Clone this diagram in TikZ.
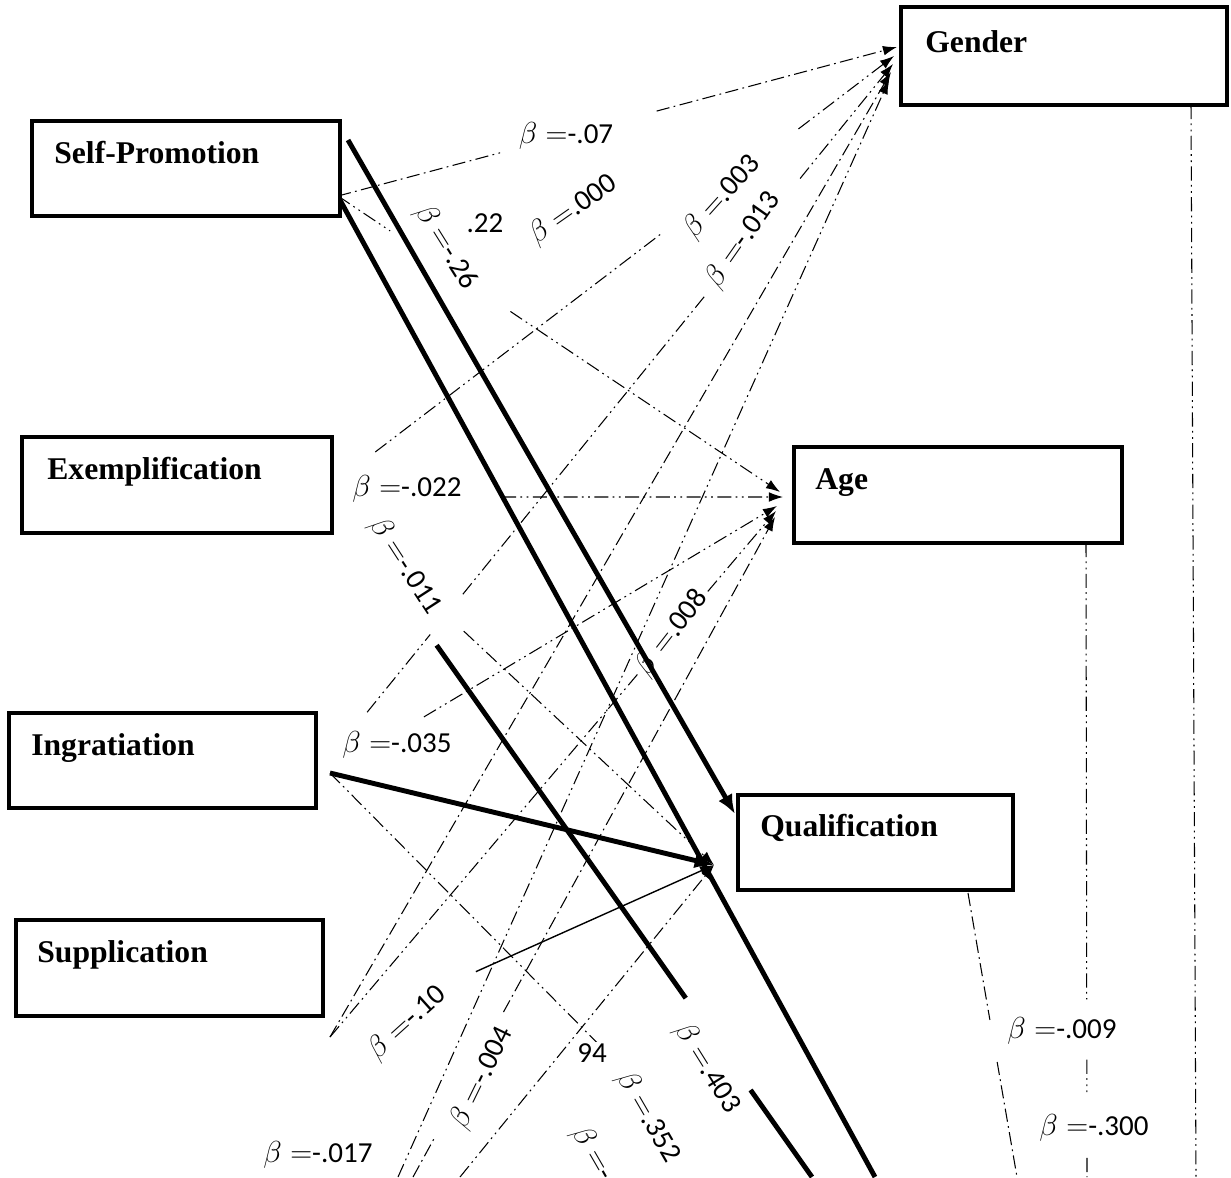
\documentclass[tikz,border=0pt]{standalone}
\usepackage{fontspec}
\setmainfont{Liberation Serif}
\newfontfamily\calib{Carlito}
\usetikzlibrary{calc,arrows.meta}
\begin{document}
\begin{tikzpicture}[x=0.02cm,y=-0.02cm,
  box/.style={draw, line width=1.8pt, fill=white, inner sep=0pt},
  boxtxt/.style={font=\fontsize{18}{20}\selectfont\bfseries, anchor=base west, inner sep=0pt},
  beta/.style={font=\calib\fontsize{16.5}{18}\selectfont, inner sep=1pt, fill=white},
  dd/.style={line width=0.6pt, dash pattern=on 7.5pt off 2.5pt on 1pt off 2.5pt},
  ddd/.style={line width=0.6pt, dash pattern=on 8pt off 2.5pt on 1pt off 2.5pt on 1pt off 2.5pt},
  heavy/.style={line width=2.8pt},
  tip/.style={-{Latex[length=8pt,width=5.5pt]}},
  bigtip/.style={-{Latex[length=11pt,width=9pt]}},
]
\clip (0,0) rectangle (1231,1177);
\fill[white] (0,0) rectangle (1231,1177);

% ---------- coordinates ----------
\coordinate (spA) at (338,196);
\coordinate (spT1) at (348,140);
\coordinate (spT2) at (340,200);
\coordinate (exA) at (332,497);
\coordinate (exG) at (332,485);
\coordinate (exQ) at (332,508);
\coordinate (inA) at (330,773);
\coordinate (inG) at (330,758);
\coordinate (suA) at (330,1037);
\coordinate (bo1) at (398,1177);
\coordinate (bo2) at (413,1177);
\coordinate (bo3) at (460,1177);
\coordinate (g1) at (897,47);
\coordinate (g2) at (894,56);
\coordinate (g3) at (893,64);
\coordinate (g4) at (891,72);
\coordinate (g5) at (889,80);
\coordinate (a1) at (780,492);
\coordinate (a2) at (783,497);
\coordinate (a3) at (777,506);
\coordinate (a4) at (776,511);
\coordinate (a5) at (775,517);
\coordinate (q) at (714,865);
\coordinate (qT1) at (735,814);
\coordinate (oT2) at (875,1177);
\coordinate (oT3) at (812,1177);
\coordinate (oD1) at (730,1177);
\coordinate (gB) at (1191,105);
\coordinate (oV1) at (1196,1177);
\coordinate (aB) at (1086,543);
\coordinate (oV2) at (1087,1177);
\coordinate (qB) at (968,893);
\coordinate (oV3) at (1017,1177);

% ---------- to Gender ----------
\draw[dd] (spA) -- ($(spA)!0.29!(g1)$);
\draw[dd,tip] ($(spA)!0.57!(g1)$) -- (g1);
\draw[ddd] ($(exG)!0.077!(g2)$) -- ($(exG)!0.59!(g2)$);
\draw[ddd,tip] ($(exG)!0.83!(g2)$) -- (g2);
\draw[ddd] ($(inG)!0.066!(g3)$) -- ($(inG)!0.178!(g3)$);
\draw[ddd] ($(inG)!0.236!(g3)$) -- ($(inG)!0.666!(g3)$);
\draw[ddd,tip] ($(inG)!0.835!(g3)$) -- (g3);
\draw[dd,tip] (suA) -- (g4);
\draw[ddd,tip] (bo1) -- (g5);

% ---------- to Age ----------
\draw[ddd] (spA) -- ($(spA)!0.118!(a1)$);
\draw[ddd,tip] ($(spA)!0.39!(a1)$) -- (a1);
\draw[ddd,tip] ($(exA)!0.377!(a2)$) -- (a2);
\draw[ddd,tip] ($(inA)!0.21!(a3)$) -- (a3);
\draw[ddd,tip] (suA) -- (a4);
\draw[dd] (bo2) -- ($(bo2)!0.06!(a5)$);
\draw[dd,tip] ($(bo2)!0.25!(a5)$) -- (a5);

% ---------- to Qualification ----------
\draw[ddd,tip] ($(exQ)!0.345!(q)$) -- (q);
\draw[line width=0.8pt,tip] ($(suA)!0.38!(q)$) -- (q);
\draw[ddd,tip] (bo3) -- (q);
\draw[ddd] (inA) -- ($(inA)!0.67!(oD1)$);

% ---------- verticals ----------
\draw[ddd] (gB) -- (oV1);
\draw[ddd] (aB) -- ($(aB)!0.72!(oV2)$);
\draw[ddd] ($(aB)!0.815!(oV2)$) -- ($(aB)!0.866!(oV2)$);
\draw[ddd] ($(aB)!0.97!(oV2)$) -- (oV2);
\draw[dd] (qB) -- ($(qB)!0.447!(oV3)$);
\draw[dd] ($(qB)!0.595!(oV3)$) -- (oV3);

% ---------- labels ----------
\node[beta] (l07) at (566,136) {$\beta=$-.07};
\node[beta, rotate=35] (l000) at (573,210) {$\beta=$.000};
\node[beta] (l22) at (485,223) {.22};
\node[beta, rotate=-58] (l26) at (446,247) {$\beta=$-.26};
\node[beta, rotate=48] (l003) at (722,197) {$\beta=$.003};
\node[beta, rotate=55] (l013) at (743,240) {$\beta=$-.013};
\node[beta] (l022) at (407,489) {$\beta=$-.022};
\node[beta, rotate=-57] (l011) at (405,566) {$\beta=$-.011};
\node[beta, rotate=52] (l008) at (672,633) {$\beta=$.008};
\node[beta] (l035) at (397,745) {$\beta=$-.035};
\node[beta, rotate=42] (l10) at (407,1023) {$\beta=$-.10};
\node[beta, rotate=64] (l004) at (482,1078) {$\beta=$-.004};
\node[beta] (l94) at (592,1053) {94};
\node[beta, rotate=-60] (l352) at (648,1117) {$\beta=$.352};
\node[beta, rotate=-60, anchor=west] (lcut) at (577,1127) {$\beta=$-.};
\node[beta, rotate=-58] (l403) at (707,1068) {$\beta=$.403};
\node[beta] (l017) at (318,1155) {$\beta=$-.017};
\node[beta] (l009) at (1062,1031) {$\beta=$-.009};
\node[beta] (l300) at (1094,1128) {$\beta=$-.300};

% ---------- thick paths ----------
\draw[heavy,bigtip] (inA) -- (q);
\draw[heavy,bigtip] (spT1) -- (qT1);
\draw[heavy] (spT2) -- (oT2);
\draw[heavy] ($(exA)!0.218!(oT3)$) -- ($(exA)!0.737!(oT3)$);
\draw[heavy] ($(exA)!0.872!(oT3)$) -- (oT3);

% ---------- boxes ----------
\node[box, minimum width=6.16cm, minimum height=1.9cm] (sp) at (186,168.5) {};
\node[box, minimum width=6.52cm, minimum height=1.96cm] (gd) at (1064,56) {};
\node[box, minimum width=6.2cm, minimum height=1.92cm] (ex) at (177,485) {};
\node[box, minimum width=6.56cm, minimum height=1.92cm] (ag) at (958,495) {};
\node[box, minimum width=6.14cm, minimum height=1.9cm] (ing) at (162.5,760.5) {};
\node[box, minimum width=5.5cm, minimum height=1.9cm] (qu) at (875.5,842.5) {};
\node[box, minimum width=6.14cm, minimum height=1.92cm] (su) at (169.5,968) {};

\node[boxtxt] (spt) at (54,163) {Self-Promotion};
\node[boxtxt] (gdt) at (925,52) {Gender};
\node[boxtxt] (ext) at (47,479) {Exemplification};
\node[boxtxt] (agt) at (815,489) {Age};
\node[boxtxt] (int) at (31,755) {Ingratiation};
\node[boxtxt] (qut) at (760,836) {Qualification};
\node[boxtxt] (sut) at (37,962) {Supplication};
\end{tikzpicture}
\end{document}
